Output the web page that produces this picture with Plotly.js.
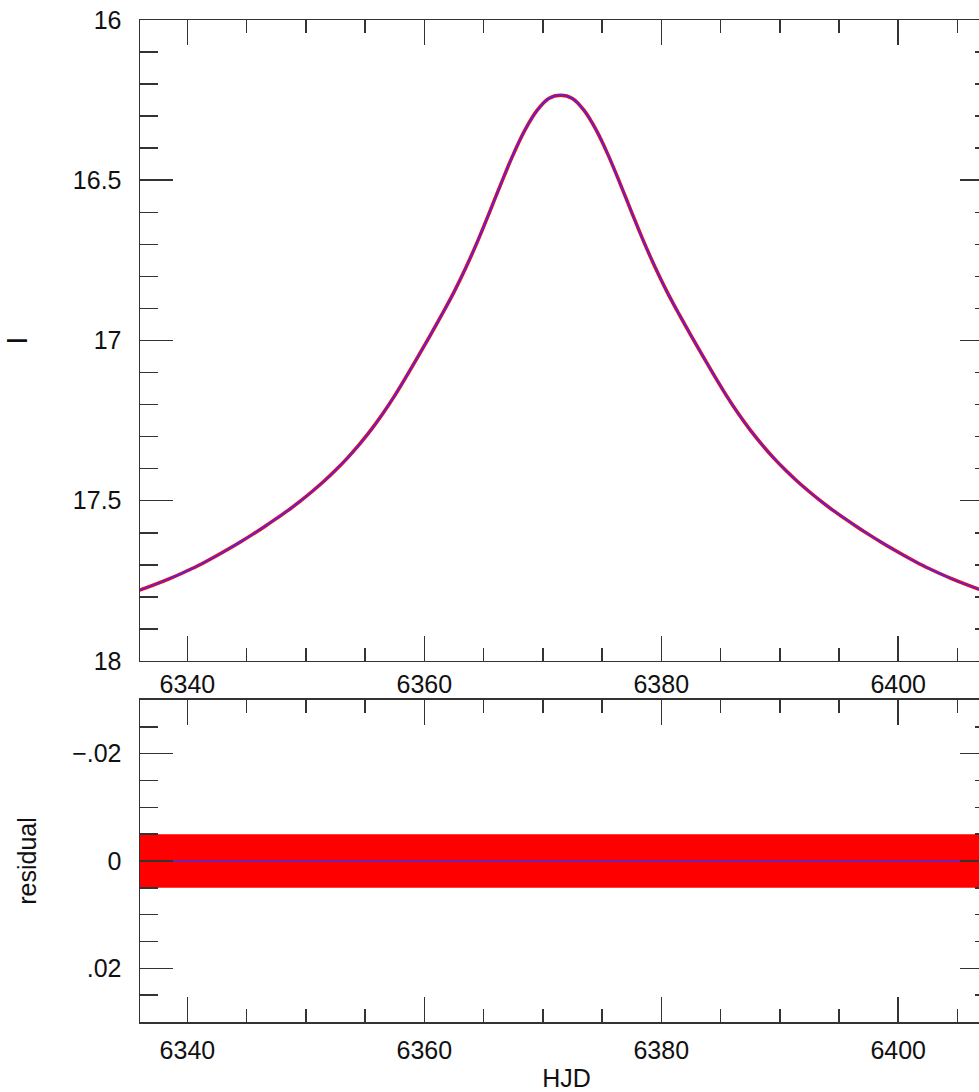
<!DOCTYPE html>
<html>
<head>
<meta charset="utf-8">
<script src="https://cdn.plot.ly/plotly-3.0.1.min.js"></script>
<style>
html,body{margin:0;padding:0;background:#fff;overflow:hidden;}
#chart{width:1000px;height:1092px;}
</style>
</head>
<body>
<div id="chart"></div>
<script>
// Light curve (I magnitude), one value per day
const hjd = [6335.5, 6336.5, 6337.5, 6338.5, 6339.5, 6340.5, 6341.5, 6342.5, 6343.5, 6344.5,
             6345.5, 6346.5, 6347.5, 6348.5, 6349.5, 6350.5, 6351.5, 6352.5, 6353.5, 6354.5,
             6355.5, 6356.5, 6357.5, 6358.5, 6359.5, 6360.5, 6361.5, 6362.5, 6363.5, 6364.5,
             6365.5, 6366.5, 6367.5, 6368.5, 6369.5, 6370.5, 6371.5, 6372.5, 6373.5, 6374.5,
             6375.5, 6376.5, 6377.5, 6378.5, 6379.5, 6380.5, 6381.5, 6382.5, 6383.5, 6384.5,
             6385.5, 6386.5, 6387.5, 6388.5, 6389.5, 6390.5, 6391.5, 6392.5, 6393.5, 6394.5,
             6395.5, 6396.5, 6397.5, 6398.5, 6399.5, 6400.5, 6401.5, 6402.5, 6403.5, 6404.5,
             6405.5, 6406.5, 6407.5];
const magI = [17.785, 17.772, 17.758, 17.743, 17.727, 17.710, 17.691, 17.671, 17.650, 17.628,
              17.605, 17.581, 17.556, 17.530, 17.502, 17.472, 17.440, 17.405, 17.367, 17.325,
              17.279, 17.228, 17.172, 17.111, 17.048, 16.984, 16.918, 16.849, 16.773, 16.690,
              16.600, 16.508, 16.420, 16.343, 16.283, 16.245, 16.235, 16.245, 16.283, 16.343,
              16.420, 16.508, 16.600, 16.690, 16.773, 16.849, 16.918, 16.984, 17.048, 17.111,
              17.172, 17.228, 17.279, 17.325, 17.367, 17.405, 17.440, 17.472, 17.502, 17.530,
              17.556, 17.581, 17.605, 17.628, 17.650, 17.671, 17.691, 17.710, 17.727, 17.743,
              17.758, 17.772, 17.785];

// Residual panel: error band and zero residual
const resX = [6336, 6408];
const resUpper = [-0.005, -0.005];
const resLower = [0.005, 0.005];
const resZero = [0, 0];

// Tick labels
const resTickVals = [-0.02, 0, 0.02];
const resTickText = ['\u2212.02', '0', '.02'];

const font = {family: 'Liberation Sans, Arial, sans-serif', size: 25, color: '#111'};
const axisCommon = {
  showline: true, linecolor: '#333', linewidth: 1.5, mirror: 'allticks',
  ticks: 'inside', tickcolor: '#333', tickwidth: 1.5,
  showgrid: false, zeroline: false, tickfont: font
};

const traces = [
  {x: hjd, y: magI, xaxis: 'x', yaxis: 'y', mode: 'lines', line: {color: '#ff0000', width: 3.5, shape: 'spline'}, hoverinfo: 'skip'},
  {x: hjd, y: magI, xaxis: 'x', yaxis: 'y', mode: 'lines', line: {color: '#3a2cff', width: 1.5, shape: 'spline'}, hoverinfo: 'skip'},
  {x: resX, y: resUpper, xaxis: 'x2', yaxis: 'y2', mode: 'lines', line: {width: 0, color: '#ff0000'}, hoverinfo: 'skip'},
  {x: resX, y: resLower, xaxis: 'x2', yaxis: 'y2', mode: 'lines', fill: 'tonexty', fillcolor: '#ff0000', line: {width: 0, color: '#ff0000'}, hoverinfo: 'skip'},
  {x: resX, y: resZero, xaxis: 'x2', yaxis: 'y2', mode: 'lines', line: {color: '#3a2cff', width: 1.5}, hoverinfo: 'skip'}
];

const layout = {
  width: 1000, height: 1092,
  margin: {l: 140, r: 7, t: 20, b: 70},
  paper_bgcolor: '#fff', plot_bgcolor: '#fff',
  showlegend: false,
  font: font,
  xaxis: Object.assign({}, axisCommon, {
    domain: [0, 1], anchor: 'y', range: [6336, 6408],
    tickmode: 'linear', tick0: 6340, dtick: 20, ticklen: 25, ticklabelstandoff: 1,
    minor: {ticks: 'inside', tick0: 6340, dtick: 5, ticklen: 13, tickcolor: '#333', tickwidth: 1.5, showgrid: false}
  }),
  yaxis: Object.assign({}, axisCommon, {
    domain: [0.3603, 1], anchor: 'x', range: [18, 16],
    tickmode: 'linear', tick0: 16, dtick: 0.5, ticklen: 33, ticklabelstandoff: 12,
    minor: {ticks: 'inside', tick0: 16, dtick: 0.1, ticklen: 18, tickcolor: '#333', tickwidth: 1.5, showgrid: false},
    title: {text: 'I', font: {family: font.family, size: 30, color: '#111'}, standoff: 46}
  }),
  xaxis2: Object.assign({}, axisCommon, {
    domain: [0, 1], anchor: 'y2', range: [6336, 6408],
    tickmode: 'linear', tick0: 6340, dtick: 20, ticklen: 25, ticklabelstandoff: 5,
    minor: {ticks: 'inside', tick0: 6340, dtick: 5, ticklen: 13, tickcolor: '#333', tickwidth: 1.5, showgrid: false},
    title: {text: 'HJD', font: font, standoff: 10}
  }),
  yaxis2: Object.assign({}, axisCommon, {
    domain: [0, 0.3214], anchor: 'x2', range: [0.03, -0.03],
    tickmode: 'array', tickvals: resTickVals, ticktext: resTickText, ticklen: 33, ticklabelstandoff: 12,
    minor: {ticks: 'inside', tickmode: 'linear', tick0: 0, dtick: 0.005, ticklen: 18, tickcolor: '#333', tickwidth: 1.5, showgrid: false},
    title: {text: 'residual', font: font, standoff: 28}
  })
};

Plotly.newPlot('chart', traces, layout, {staticPlot: true, displayModeBar: false});
</script>
</body>
</html>
